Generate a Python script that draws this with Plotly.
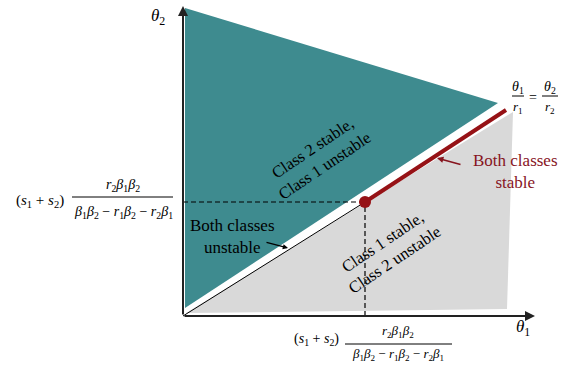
import plotly.graph_objects as go

# ---- data (theta1, theta2 in arbitrary units) ----
teal_x = [0.02, 3.15, 0.02]
teal_y = [3.08, 2.13, 0.08]
gray_x = [0.03, 3.30, 3.24, 0.03]
gray_y = [0.03, 2.04, 0.07, 0.03]
th1_star = 1.82
th2_star = 1.14
stable_x = [th1_star, 3.23]
stable_y = [th2_star, 2.06]
unstable_x = [0.0, th1_star]
unstable_y = [0.0, th2_star]
x_axis_end = 3.52
y_axis_end = 3.10

TEAL = "rgb(62,139,143)"
GRAY = "rgb(217,217,217)"
RED = "rgb(150,18,22)"
TRED = "rgb(135,20,30)"
SERIF = "Liberation Serif"

fig = go.Figure()
fig.add_trace(go.Scatter(x=teal_x, y=teal_y, fill="toself", fillcolor=TEAL,
                         mode="lines", line=dict(width=0), hoverinfo="skip"))
fig.add_trace(go.Scatter(x=gray_x, y=gray_y, fill="toself", fillcolor=GRAY,
                         mode="lines", line=dict(width=0), hoverinfo="skip"))
fig.add_trace(go.Scatter(x=unstable_x, y=unstable_y, mode="lines",
                         line=dict(color="black", width=1), hoverinfo="skip"))
fig.add_trace(go.Scatter(x=stable_x, y=stable_y, mode="lines",
                         line=dict(color=RED, width=4), hoverinfo="skip"))
# dashed guides
fig.add_trace(go.Scatter(x=[0, th1_star], y=[th2_star, th2_star], mode="lines",
                         line=dict(color="black", width=1.2, dash="5px,3px"), hoverinfo="skip"))
fig.add_trace(go.Scatter(x=[th1_star, th1_star], y=[0, th2_star], mode="lines",
                         line=dict(color="black", width=1.2, dash="5px,3px"), hoverinfo="skip"))
fig.add_trace(go.Scatter(x=[th1_star], y=[th2_star], mode="markers",
                         marker=dict(color=RED, size=12), hoverinfo="skip"))

ann = []
# axes with arrows
ann.append(dict(x=x_axis_end, y=0, ax=0, ay=0, xref="x", yref="y", axref="x", ayref="y",
                text="", showarrow=True, arrowhead=2, arrowsize=1, arrowwidth=2, arrowcolor="#222"))
ann.append(dict(x=0, y=y_axis_end, ax=0, ay=0, xref="x", yref="y", axref="x", ayref="y",
                text="", showarrow=True, arrowhead=2, arrowsize=1, arrowwidth=2, arrowcolor="#222"))

def txt(x, y, s, size=14, color="black", angle=0, align="center"):
    ann.append(dict(x=x, y=y, xref="x", yref="y", text=s, showarrow=False,
                    font=dict(family=SERIF, size=size, color=color), textangle=angle,
                    align=align, xanchor="center", yanchor="middle"))

txt(-0.25, 2.99, "<i>θ</i><sub>2</sub>", 17)
txt(3.40, -0.12, "<i>θ</i><sub>1</sub>", 17)

s12 = "(<i>s</i><sub>1</sub> + <i>s</i><sub>2</sub>)"
num = "<i>r</i><sub>2</sub><i>β</i><sub>1</sub><i>β</i><sub>2</sub>"
den = ("<i>β</i><sub>1</sub><i>β</i><sub>2</sub> − <i>r</i><sub>1</sub><i>β</i><sub>2</sub>"
       " − <i>r</i><sub>2</sub><i>β</i><sub>1</sub>")

# left label
txt(-1.43, 1.15, s12, 15)
txt(-0.60, 1.31, num, 14)
txt(-0.60, 1.04, den, 14)
# bottom label
txt(1.33, -0.23, s12, 14)
txt(2.15, -0.15, num, 13)
txt(2.15, -0.38, den, 13)
# equation
txt(3.35, 2.29, "<i>θ</i><sub>1</sub>", 14)
txt(3.35, 2.09, "<i>r</i><sub>1</sub>", 13)
txt(3.50, 2.19, "=", 14)
txt(3.67, 2.29, "<i>θ</i><sub>2</sub>", 14)
txt(3.67, 2.09, "<i>r</i><sub>2</sub>", 13)

# region labels
txt(1.35, 1.59, "Class 2 stable,<br>Class 1 unstable", 16.5, angle=-34)
txt(2.05, 0.65, "Class 1 stable,<br>Class 2 unstable", 16.5, angle=-34)
txt(0.49, 0.80, "Both classes<br>unstable", 17)
txt(3.32, 1.45, "Both classes<br>stable", 17, color=TRED)

# pointer arrows
ann.append(dict(x=2.54, y=1.58, ax=2.79, ay=1.51, xref="x", yref="y", axref="x", ayref="y",
                text="", showarrow=True, arrowhead=2, arrowsize=0.8, arrowwidth=1.6, arrowcolor=TRED))
ann.append(dict(x=1.05, y=0.68, ax=0.82, ay=0.74, xref="x", yref="y", axref="x", ayref="y",
                text="", showarrow=True, arrowhead=2, arrowsize=0.8, arrowwidth=1.3, arrowcolor="black"))

shapes = []
for x0, x1, y0 in [(-1.11, -0.10, 1.19), (1.62, 2.69, -0.28), (3.29, 3.41, 2.20), (3.59, 3.75, 2.20)]:
    shapes.append(dict(type="line", x0=x0, x1=x1, y0=y0, y1=y0, xref="x", yref="y",
                       line=dict(color="black", width=1)))

fig.update_layout(
    width=572, height=371, margin=dict(l=0, r=0, t=0, b=0),
    paper_bgcolor="white", plot_bgcolor="white", showlegend=False,
    xaxis=dict(range=[-1.83, 3.89], visible=False, fixedrange=True),
    yaxis=dict(range=[-0.55, 3.16], visible=False, fixedrange=True),
    annotations=ann, shapes=shapes,
)
fig.write_html("out.html", config={"displayModeBar": False},
               post_script="document.body.style.margin='0px';")
